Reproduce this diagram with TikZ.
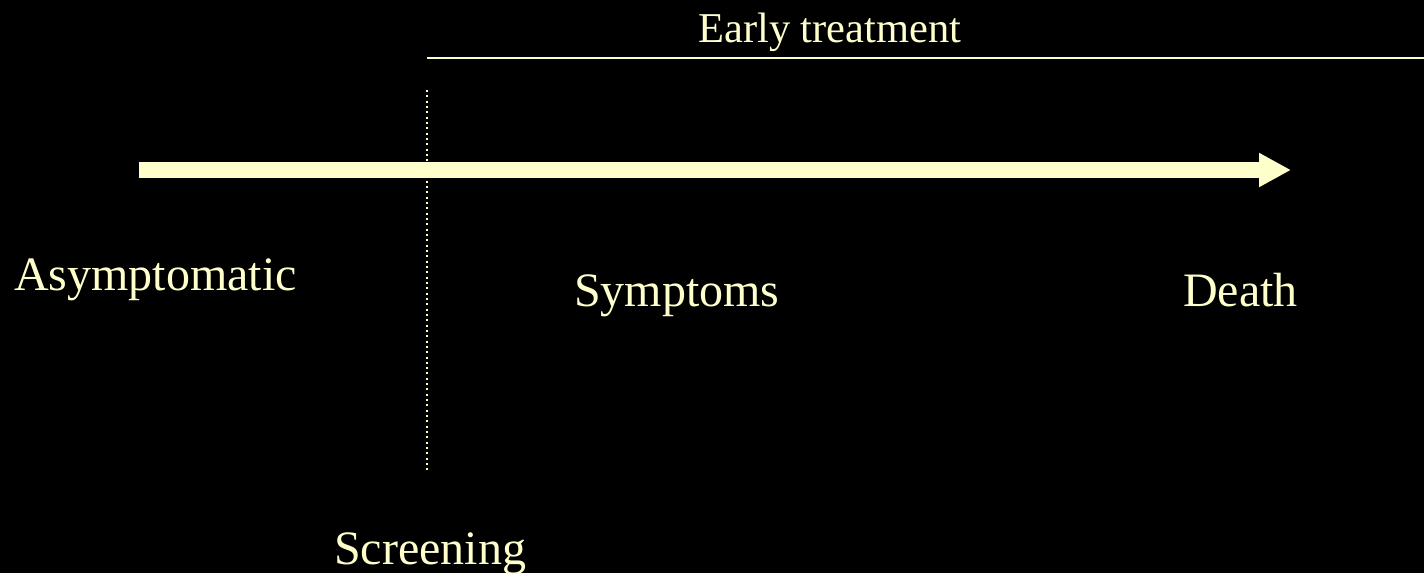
\documentclass[tikz,border=0pt]{standalone}
\usepackage{fontspec}
\setmainfont{Liberation Serif}
\usetikzlibrary{arrows.meta}
\definecolor{cream}{HTML}{FFFFCC}
\tikzset{
  lbl/.style={anchor=base west, inner sep=0pt, text=cream, font=\fontsize{48}{56}\selectfont},
  toplbl/.style={anchor=base west, inner sep=0pt, text=cream, font=\fontsize{42.5}{50}\selectfont},
  mainarrow/.style={draw=cream, line width=16pt, -{Triangle[length=32pt,width=32pt]}},
  dotline/.style={draw=cream, line width=2pt, dash pattern=on 2pt off 3.33pt},
  treatline/.style={draw=cream, line width=2pt}
}
\begin{document}
\begin{tikzpicture}[x=1pt,y=-1pt]
\fill[black] (0,0) rectangle (1424,573);
\useasboundingbox (0,0) rectangle (1424,573);
\coordinate (tstart) at (427,58);
\coordinate (tend) at (1424,58);
\coordinate (dtop) at (427,90);
\coordinate (dbot) at (427,471);
\coordinate (astart) at (139,170);
\coordinate (aend) at (1291,170);
\draw[treatline] (tstart) -- (tend);
\draw[dotline] (dtop) -- (dbot);
\draw[mainarrow] (astart) -- (aend);
\node[toplbl] (early) at (698,42) {Early treatment};
\node[lbl] (asym) at (14,290) {Asymptomatic};
\node[lbl] (symp) at (574,306) {Symptoms};
\node[lbl] (death) at (1183,306) {Death};
\node[lbl] (scr) at (334,564) {Screening};
\end{tikzpicture}
\end{document}
